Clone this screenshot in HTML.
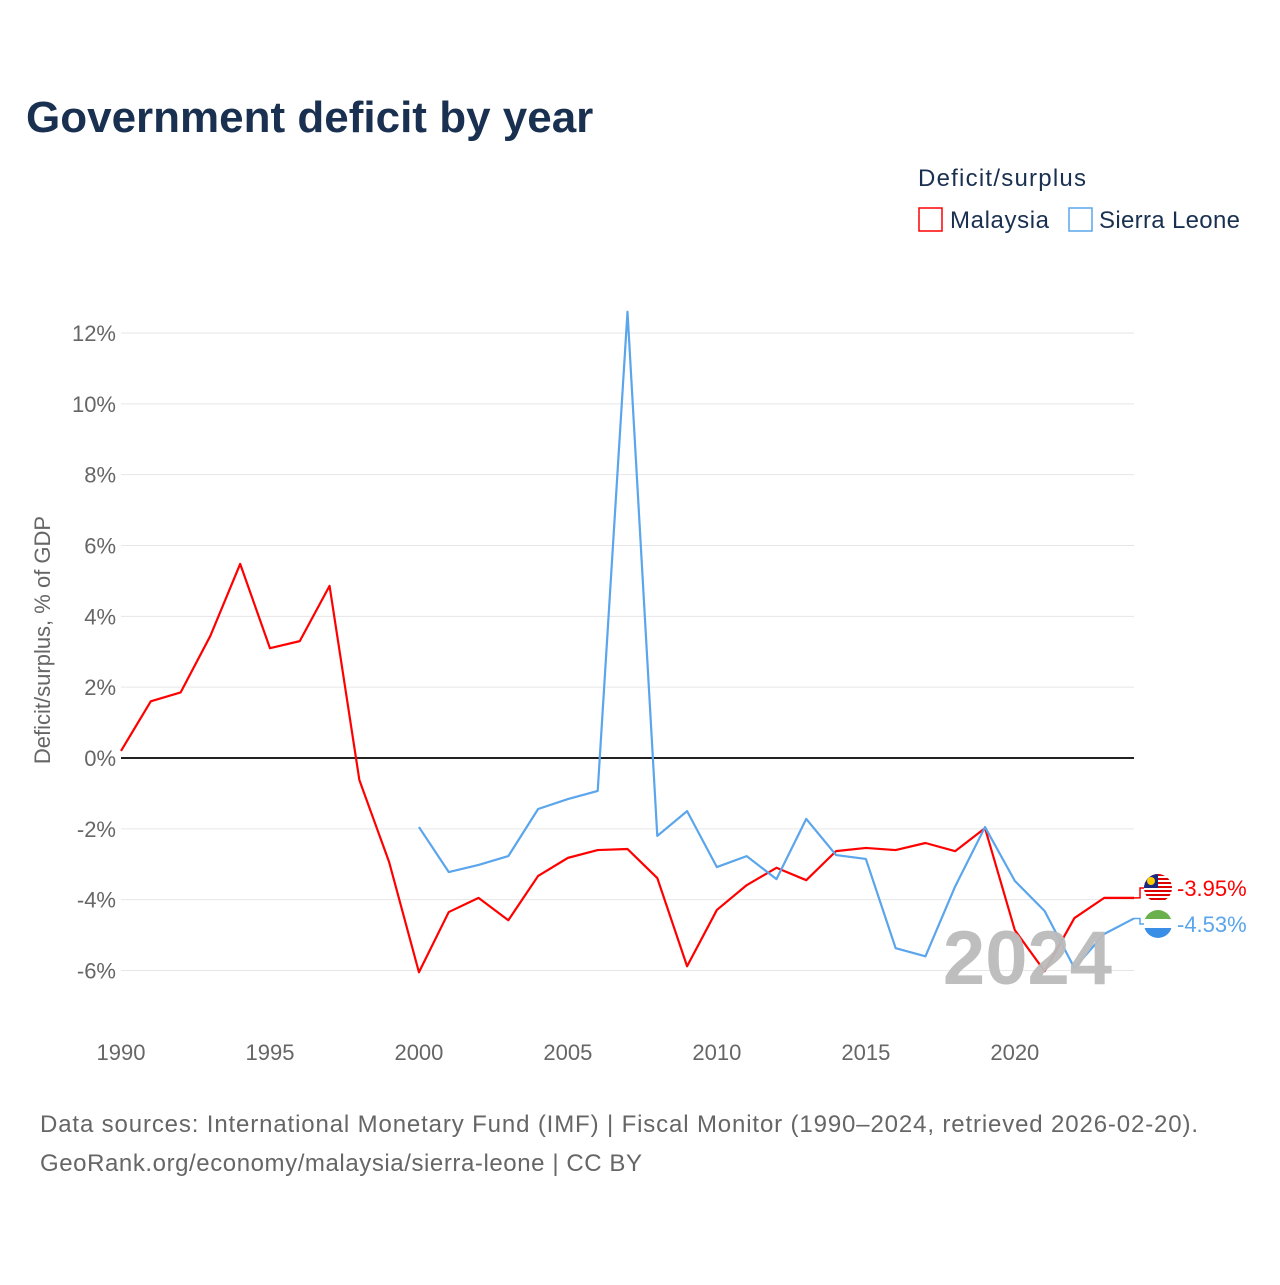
<!DOCTYPE html>
<html><head><meta charset="utf-8"><style>
body{margin:0;background:#fff;font-family:"Liberation Sans",sans-serif}
</style></head><body>
<svg id="c" width="1280" height="1280" viewBox="0 0 1280 1280" style="font-family:'Liberation Sans',sans-serif">
<defs><clipPath id="fc1"><circle cx="1158" cy="888" r="14"/></clipPath><clipPath id="fc2"><circle cx="1158" cy="924" r="14"/></clipPath></defs>
<text x="26" y="132" font-size="44" font-weight="bold" fill="#1a3050">Government deficit by year</text>
<text x="918" y="186" font-size="24" fill="#1a3050" textLength="168">Deficit/surplus</text>
<g><rect x="919" y="208" width="23" height="23" fill="none" stroke="#ff0000" stroke-width="1.5"/><text x="950" y="228" font-size="24" fill="#1a3050" textLength="99">Malaysia</text></g>
<g><rect x="1069" y="208" width="23" height="23" fill="none" stroke="#5aa5ec" stroke-width="1.5"/><text x="1099" y="228" font-size="24" fill="#1a3050" textLength="141">Sierra Leone</text></g>
<text transform="translate(50,640) rotate(-90)" text-anchor="middle" font-size="22" fill="#666">Deficit/surplus, % of GDP</text>
<g id="grid"></g><g id="lines"></g>
<text x="1112" y="984" text-anchor="end" font-size="76" font-weight="bold" fill="#bbb" opacity="0.95">2024</text>
<g id="ends"></g>
<text x="40" y="1132" font-size="24" fill="#666" textLength="1158">Data sources: International Monetary Fund (IMF) | Fiscal Monitor (1990–2024, retrieved 2026-02-20).</text>
<text x="40" y="1171" font-size="24" fill="#666" textLength="602">GeoRank.org/economy/malaysia/sierra-leone | CC BY</text>
</svg>
<script>
const yTicks=[-6,-4,-2,0,2,4,6,8,10,12];
const xTicks=[1990,1995,2000,2005,2010,2015,2020];
const myYears=[1990,1991,1992,1993,1994,1995,1996,1997,1998,1999,2000,2001,2002,2003,2004,2005,2006,2007,2008,2009,2010,2011,2012,2013,2014,2015,2016,2017,2018,2019,2020,2021,2022,2023,2024];
const malaysia=[0.2,1.6,1.85,3.45,5.48,3.1,3.3,4.86,-0.62,-2.94,-6.05,-4.35,-3.95,-4.58,-3.33,-2.82,-2.6,-2.57,-3.39,-5.88,-4.29,-3.59,-3.1,-3.45,-2.63,-2.54,-2.6,-2.4,-2.63,-1.98,-4.86,-6.02,-4.52,-3.95,-3.95];
const slYears=[2000,2001,2002,2003,2004,2005,2006,2007,2008,2009,2010,2011,2012,2013,2014,2015,2016,2017,2018,2019,2020,2021,2022,2023,2024];
const sierraLeone=[-1.95,-3.22,-3.02,-2.77,-1.44,-1.16,-0.93,12.6,-2.2,-1.5,-3.08,-2.77,-3.42,-1.72,-2.74,-2.85,-5.37,-5.6,-3.62,-1.95,-3.47,-4.32,-5.93,-4.97,-4.53];
const X=y=>121+(y-1990)*(1134-121)/34;
const Y=v=>758-v*(758-333)/12;
const NS="http://www.w3.org/2000/svg";
function mk(t,a,p){const e=document.createElementNS(NS,t);for(const k in a)e.setAttribute(k,a[k]);p.appendChild(e);return e;}
const g=document.getElementById('grid');
yTicks.forEach(v=>{
 const l=mk('line',{x1:121,x2:1134,y1:Y(v),y2:Y(v),stroke:v===0?'#222':'#e6e6e6','stroke-width':v===0?2:1},g);
 
 
 const t=mk('text',{x:116,y:Y(v)+8,'text-anchor':'end','font-size':22,fill:'#666'},g);
 t.textContent=v+'%';
 
 
});
xTicks.forEach(y=>{
 const t=mk('text',{x:X(y),y:1060,'text-anchor':'middle','font-size':22,fill:'#666'},g);
 t.textContent=y;
 
 
});
const L=document.getElementById('lines');
function line(xs,vs,c,n){
 const p=mk('polyline',{points:xs.map((y,i)=>X(y)+','+Y(vs[i])).join(' '),fill:'none',stroke:c,'stroke-width':2.2,'stroke-linejoin':'round'},L);
 
 
}
line(myYears,malaysia,'#ff0000','malaysia-line');
line(slYears,sierraLeone,'#5aa5ec','sierra-leone-line');
const E=document.getElementById('ends');
function end(v,ly,c,n,flag){
 const x=X(2024);
 mk('polyline',{points:`${x},${Y(v)} ${x+6},${Y(v)} ${x+6},${ly} ${x+12},${ly}`,fill:'none',stroke:c,'stroke-width':1.5},E);
 const cl=mk('g',{'clip-path':flag==='my'?'url(#fc1)':'url(#fc2)'},E);
 
 
 if(flag==='my'){
  mk('rect',{x:1144,y:874,width:28,height:28,fill:'#fff'},cl);
  for(let i=0;i<7;i++)mk('rect',{x:1144,y:874+i*4,width:28,height:2,fill:'#d00'},cl);
  mk('rect',{x:1144,y:874,width:14,height:14,fill:'#1a2a80'},cl);
  mk('circle',{cx:1151,cy:881,r:4,fill:'#fc0'},cl);
 }else{
  mk('rect',{x:1144,y:910,width:28,height:10,fill:'#6ab04c'},cl);
  mk('rect',{x:1144,y:919,width:28,height:10,fill:'#fff'},cl);
  mk('rect',{x:1144,y:928,width:28,height:10,fill:'#3a8ee6'},cl);
 }
 const t=mk('text',{x:1177,y:ly+8,'font-size':22,fill:c},E);
 t.textContent=v.toFixed(2)+'%';
 
 
}
end(malaysia[malaysia.length-1],888,'#ff0000','malaysia','my');
end(sierraLeone[sierraLeone.length-1],924,'#5aa5ec','sierra-leone','sl');
</script>
</body></html>
